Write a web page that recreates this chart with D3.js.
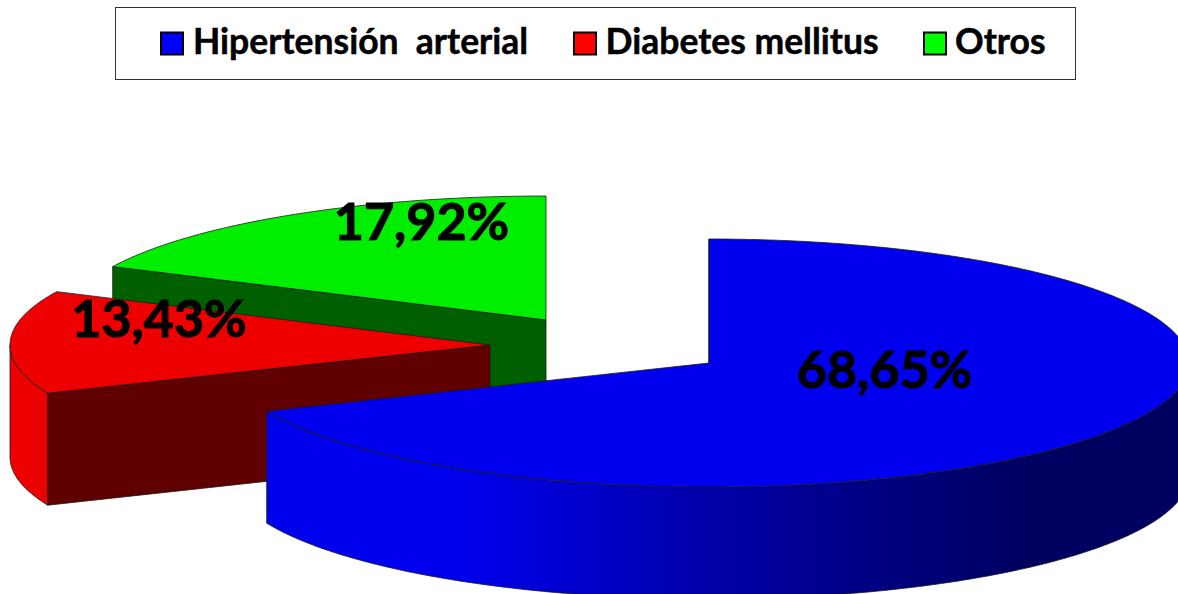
<!DOCTYPE html>
<html lang="es">
<head>
<meta charset="utf-8">
<title>Distribución por causas</title>
<script src="https://cdn.jsdelivr.net/npm/d3@7"></script>
<style>
  html, body { margin: 0; padding: 0; background: #fff; overflow: hidden; }
  svg { display: block; }
  text { font-family: Lato, "Open Sans", sans-serif; font-weight: 700; fill: #000; stroke: #000; paint-order: stroke; }
</style>
</head>
<body>
<svg id="chart" width="1178" height="594"></svg>
<script>
// Chart data
const categories = ["Hipertensión  arterial", "Diabetes mellitus", "Otros"];
const shares = [68.65, 13.43, 17.92];

// Styling per slice
const faceColors = ["#0000ee", "#ee0000", "#00ee00"];
const swatchColors = ["#0000ff", "#ff0000", "#00ff00"];
const wallColors = ["#000060", "#600000", "#006000"];

// Where each exploded slice's apex and value label sit
const apexX = [709, 490, 546];
const apexY = [363, 345, 320];
const labelX = [884.5, 159, 421.5];
const labelY = [388, 337, 240];

// Legend layout
const swatchX = [161, 574, 924];
const legendTextX = [193, 605.5, 955];

const radiusX = 480, radiusY = 124, depth = 112;
const decimalComma = d3.formatLocale({ decimal: ",", thousands: ".", grouping: [3], currency: ["", ""] });
const percent = decimalComma.format(".2f");

const svg = d3.select("#chart");
const defs = svg.append("defs");

const slices = d3.pie().sort(null).value(d => d)(shares);

// Projects a pie angle (clockwise from 12 o'clock) onto the tilted disc
const unitX = d3.scaleLinear().domain([-1, 1]).range([-radiusX, radiusX]);
const unitY = d3.scaleLinear().domain([-1, 1]).range([-radiusY, radiusY]);
const project = (i, angle, drop = 0) => [
  apexX[i] + unitX(Math.sin(angle)),
  apexY[i] + unitY(-Math.cos(angle)) + drop
];
const outline = d3.line();
const sweep = (a0, a1) => {
  const n = Math.max(2, Math.ceil(Math.abs(a1 - a0) / 0.01));
  return d3.range(n + 1).map(k => a0 + (a1 - a0) * k / n);
};

// Shading along the curved outer walls
const blueRim = defs.append("linearGradient")
  .attr("id", "rim0").attr("gradientUnits", "userSpaceOnUse")
  .attr("x1", 450).attr("x2", 1025).attr("y1", 0).attr("y2", 0);
blueRim.append("stop").attr("offset", 0).attr("stop-color", "#0000ee");
blueRim.append("stop").attr("offset", 0.45).attr("stop-color", "#0000a8");
blueRim.append("stop").attr("offset", 1).attr("stop-color", "#000060");
const redRim = defs.append("linearGradient")
  .attr("id", "rim1").attr("gradientUnits", "userSpaceOnUse")
  .attr("x1", 9).attr("x2", 47).attr("y1", 0).attr("y2", 0);
redRim.append("stop").attr("offset", 0).attr("stop-color", "#f00000");
redRim.append("stop").attr("offset", 1).attr("stop-color", "#e80000");

const edge = { stroke: "#1a1a1a", "stroke-width": 0.8, "stroke-linejoin": "round" };
const applyEdge = sel => Object.entries(edge).forEach(([k, v]) => sel.attr(k, v));

// Paint back to front: green, red, blue
[2, 1, 0].forEach(i => {
  const { startAngle: a0, endAngle: a1 } = slices[i];
  const g = svg.append("g");
  const apex = [apexX[i], apexY[i]];
  const lower = p => [p[0], p[1] + depth];

  // Flat cut wall on the leading side of the wedge
  const rimPoint = project(i, a0);
  g.append("path")
    .attr("d", outline([apex, rimPoint, lower(rimPoint), lower(apex)]) + "Z")
    .attr("fill", wallColors[i])
    .call(applyEdge);

  // Curved outer wall, only the part that faces the viewer
  const from = Math.max(a0, Math.PI / 2), to = Math.min(a1, 3 * Math.PI / 2);
  if (to > from) {
    const top = sweep(from, to).map(a => project(i, a));
    const bottom = top.map(lower).reverse();
    g.append("path")
      .attr("d", outline(top.concat(bottom)) + "Z")
      .attr("fill", `url(#rim${i})`)
      .call(applyEdge);
  }

  // Top face of the wedge
  const face = [apex].concat(sweep(a0, a1).map(a => project(i, a)));
  g.append("path")
    .attr("d", outline(face) + "Z")
    .attr("fill", faceColors[i])
    .call(applyEdge);
});

// Value labels
svg.append("g").selectAll("text").data(shares).join("text")
  .attr("x", (d, i) => labelX[i])
  .attr("y", (d, i) => labelY[i])
  .attr("text-anchor", "middle")
  .attr("font-size", 52)
  .attr("stroke-width", 1.1)
  .text(d => percent(d) + "%");

// Legend
const legend = svg.append("g");
legend.append("rect")
  .attr("x", 115.5).attr("y", 7.5).attr("width", 960).attr("height", 72)
  .attr("fill", "#fff").attr("stroke", "#333").attr("stroke-width", 1);
const entries = legend.selectAll("g.entry").data(categories).join("g").attr("class", "entry");
entries.append("rect")
  .attr("x", (d, i) => swatchX[i]).attr("y", 32.5)
  .attr("width", 22).attr("height", 22)
  .attr("fill", (d, i) => swatchColors[i])
  .attr("stroke", "#000").attr("stroke-width", 2);
entries.append("text")
  .attr("x", (d, i) => legendTextX[i]).attr("y", 54)
  .attr("font-size", 35.5)
  .attr("stroke-width", 0.5)
  .style("white-space", "pre")
  .text(d => d);
</script>
</body>
</html>
